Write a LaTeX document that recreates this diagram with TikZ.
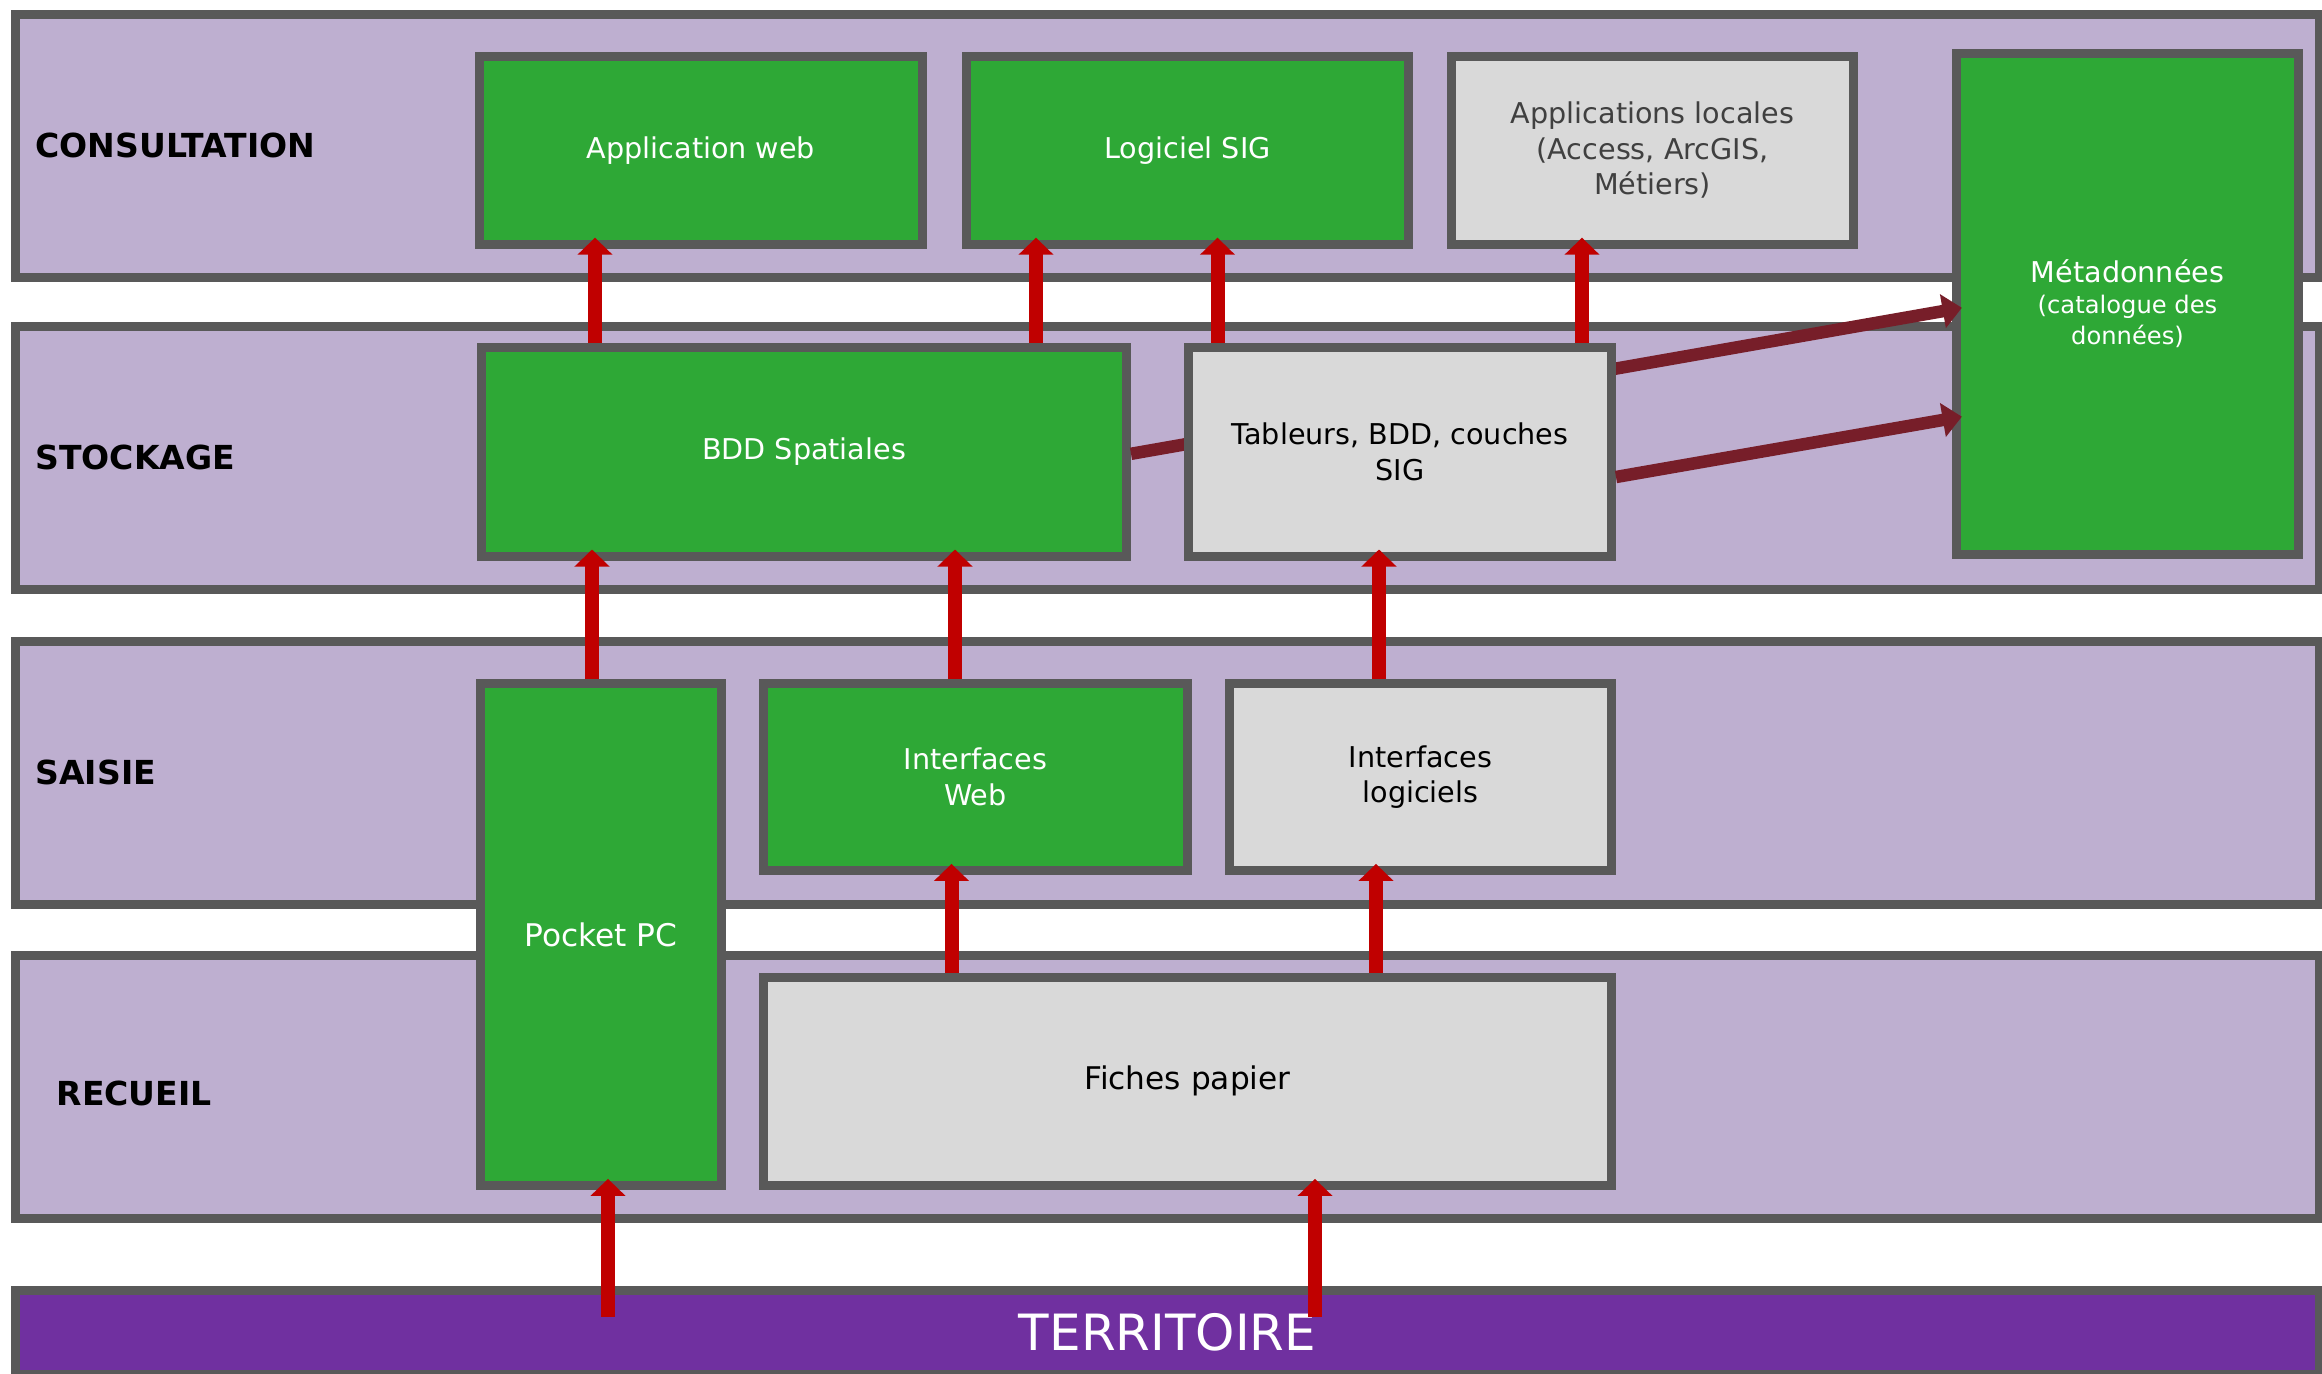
\documentclass[tikz,border=0pt]{standalone}
\usepackage{fontspec}
\setmainfont{DejaVu Sans}
\usepackage{xcolor}
\usepackage{tikz}
\usetikzlibrary{calc}
\usetikzlibrary{arrows.meta}
\usetikzlibrary{positioning}
\definecolor{lavande}{RGB}{190,175,208}
\definecolor{vert}{RGB}{46,168,54}
\definecolor{gris}{RGB}{217,217,217}
\definecolor{bord}{RGB}{89,89,89}
\definecolor{rouge}{RGB}{192,0,0}
\definecolor{bordeaux}{RGB}{119,30,41}
\definecolor{pourpre}{RGB}{112,48,160}
\definecolor{gristxt}{RGB}{64,64,64}
\newcommand{\pxu}{0.0135cm}
\newcommand{\petit}{\fontsize{9.3}{12}\selectfont}
\tikzset{>=latex}
\tikzstyle{band} = [draw=bord, line width=3.45pt, fill=lavande, inner sep=0pt, minimum width=2304*\pxu, minimum height=263*\pxu]
\tikzstyle{lab} = [inner sep=0pt, font=\bfseries\fontsize{12.7}{14}\selectfont]
\tikzstyle{vbox} = [draw=bord, line width=3.45pt, fill=vert, text=white, inner sep=0pt, align=center, font=\fontsize{11}{13.7}\selectfont]
\tikzstyle{gbox} = [vbox, fill=gris, text=black]
\tikzstyle{fl} = [draw=rouge, line width=0.189cm, -{Triangle[length=0.23cm, width=0.46cm]}, shorten >=-0.15cm]
\tikzstyle{flb} = [draw=bordeaux, line width=0.169cm, -{Triangle[length=0.26cm, width=0.45cm]}, shorten >=-0.135cm]

\begin{document}
\begin{tikzpicture}[x=\pxu, y=-\pxu]
\useasboundingbox (0,0) rectangle (2322,1374);
\node [band] (consult) at (1167.5,145.6) {};
\node [band] (stock) at (1167.5,457.8) {};
\node [band] (saisie) at (1167.5,772.8) {};
\node [band] (recueil) at (1167.5,1087.3) {};
\node [band, fill=pourpre, minimum height=84*\pxu, text=white, font=\fontsize{19.2}{23}\selectfont] (territ) at (1167.5,1332.5) {TERRITOIRE};
\node [lab, right=0.324cm of consult.west] (lconsult) {CONSULTATION};
\node [lab, right=0.324cm of stock.west] (lstock) {STOCKAGE};
\node [lab, right=0.324cm of saisie.west] (lsaisie) {SAISIE};
\node [lab, right=0.61cm of recueil.west, yshift=-0.085cm] (lrecueil) {RECUEIL};

\node [vbox, minimum width=443*\pxu, minimum height=188*\pxu] (appweb) at (701,150.3) {Application web};
\node [vbox, minimum width=442*\pxu, minimum height=188*\pxu] (sig) at (1187.5,150.3) {Logiciel SIG};
\node [gbox, text=gristxt, minimum width=402*\pxu, minimum height=188*\pxu] (apploc) at (1652.5,150.3) {Applications locales\\(Access, ArcGIS,\\Métiers)};
\node [vbox, minimum width=342*\pxu, minimum height=501*\pxu] (meta) at (2127.5,303.6) {Métadonnées\\[-2pt]{\petit(catalogue des}\\[-1.7pt]{\petit données)}};
\node [vbox, minimum width=645*\pxu, minimum height=209*\pxu] (bdd) at (804,451.6) {BDD Spatiales};
\draw [flb] ([yshift=-0.03cm]bdd.east) -- ([yshift=-0.08cm]meta.west);
\node [gbox, minimum width=423*\pxu, minimum height=209*\pxu] (tab) at (1400,451.6) {Tableurs, BDD, couches\\SIG};
\draw [flb] ([yshift=-0.343cm]tab.east) -- ([yshift=-1.55cm]meta.west);
\node [vbox, font=\fontsize{12}{14}\selectfont, minimum width=241*\pxu, minimum height=502*\pxu] (pocket) at (601,934.5) {Pocket PC};
\node [vbox, minimum width=424*\pxu, minimum height=187*\pxu] (iweb) at (975.5,777) {Interfaces\\Web};
\node [gbox, minimum width=382*\pxu, minimum height=187*\pxu] (ilog) at (1420.5,777) {Interfaces\\logiciels};
\node [gbox, font=\fontsize{12}{14}\selectfont, minimum width=848*\pxu, minimum height=208.5*\pxu] (fiches) at (1187.5,1081.3) {Fiches papier};

\draw [fl] (bdd.north -| 595,0) -- (appweb.south -| 595,0);
\draw [fl] (bdd.north -| 1036,0) -- (sig.south -| 1036,0);
\draw [fl] (tab.north -| 1217.5,0) -- (sig.south -| 1217.5,0);
\draw [fl] (tab.north -| 1582,0) -- (apploc.south -| 1582,0);
\draw [fl] (pocket.north -| 592,0) -- (bdd.south -| 592,0);
\draw [fl] (iweb.north -| 955,0) -- (bdd.south -| 955,0);
\draw [fl] (ilog.north -| 1379,0) -- (tab.south -| 1379,0);
\draw [fl] (fiches.north -| 951.5,0) -- (iweb.south -| 951.5,0);
\draw [fl] (fiches.north -| 1376,0) -- (ilog.south -| 1376,0);
\coordinate (t1) at (608,1316.7);
\coordinate (t2) at (1315,1316.7);
\draw [fl] (t1) -- (pocket.south -| t1);
\draw [fl] (t2) -- (fiches.south -| t2);
\end{tikzpicture}
\end{document}
